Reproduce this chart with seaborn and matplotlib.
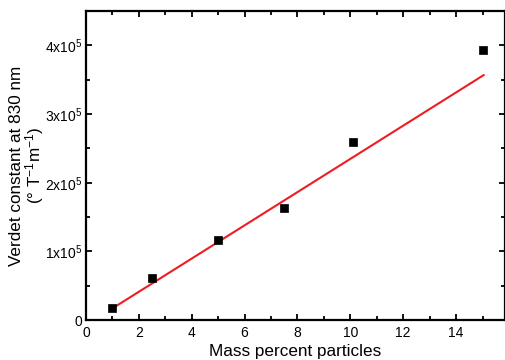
import matplotlib
matplotlib.use("Agg")
import matplotlib.pyplot as plt
import seaborn as sns
import pandas as pd
import numpy as np
from matplotlib.ticker import MultipleLocator, FuncFormatter

mass_percent = [1.0, 2.5, 5.0, 7.5, 10.1, 15.0]
verdet = [1.75e4, 6.1e4, 1.165e5, 1.63e5, 2.6e5, 3.93e5]
fit_x = [1.0, 15.05]
fit_y = [1.7e4, 3.57e5]
x_label = "Mass percent particles"
y_label = "Verdet constant at 830 nm\n(° T$^{-1}$m$^{-1}$)"

sns.set_style("ticks")
plt.rcParams['font.family'] = ['Liberation Sans', 'DejaVu Sans']
plt.rcParams['mathtext.fontset'] = 'custom'
plt.rcParams['mathtext.rm'] = 'Liberation Sans'
plt.rcParams['mathtext.it'] = 'Liberation Sans:italic'
plt.rcParams['mathtext.default'] = 'regular'
plt.rcParams['text.color'] = 'black'
plt.rcParams['axes.labelcolor'] = 'black'
plt.rcParams['xtick.color'] = 'black'
plt.rcParams['ytick.color'] = 'black'

df = pd.DataFrame({"x": mass_percent, "y": verdet})
fit = pd.DataFrame({"x": fit_x, "y": fit_y})

fig = plt.figure(figsize=(5.06, 3.6), dpi=100)
ax = fig.add_axes([0.170, 0.111, 0.828, 0.858])

sns.lineplot(data=fit, x="x", y="y", ax=ax, color="#ee1c25", linewidth=1.5)
sns.scatterplot(data=df, x="x", y="y", ax=ax, marker="s", s=38, color="black",
                edgecolor="black", linewidth=0.5, zorder=3)

ax.set_xlim(0, 15.85)
ax.set_ylim(0, 4.5e5)
ax.xaxis.set_major_locator(MultipleLocator(2))
ax.xaxis.set_minor_locator(MultipleLocator(1))
ax.yaxis.set_major_locator(MultipleLocator(1e5))
ax.yaxis.set_minor_locator(MultipleLocator(5e4))

def yfmt(v, pos):
    if abs(v) < 1:
        return "0"
    return "%dx10$^{5}$" % round(v / 1e5)
ax.yaxis.set_major_formatter(FuncFormatter(yfmt))

ax.tick_params(which="both", direction="in", top=True, right=True,
               labelsize=10, width=1.3, color="black", labelcolor="black")
ax.tick_params(axis="y", pad=3)
ax.tick_params(axis="x", pad=4)
ax.tick_params(which="major", length=4.5)
ax.tick_params(which="minor", length=3)
for s in ax.spines.values():
    s.set_linewidth(1.6)
    s.set_color("black")

ax.set_xlabel(x_label, fontsize=12.3, labelpad=3)
ax.set_ylabel(y_label, fontsize=12.3, labelpad=-1, linespacing=0.95)

fig.savefig("out.png", dpi=100)
